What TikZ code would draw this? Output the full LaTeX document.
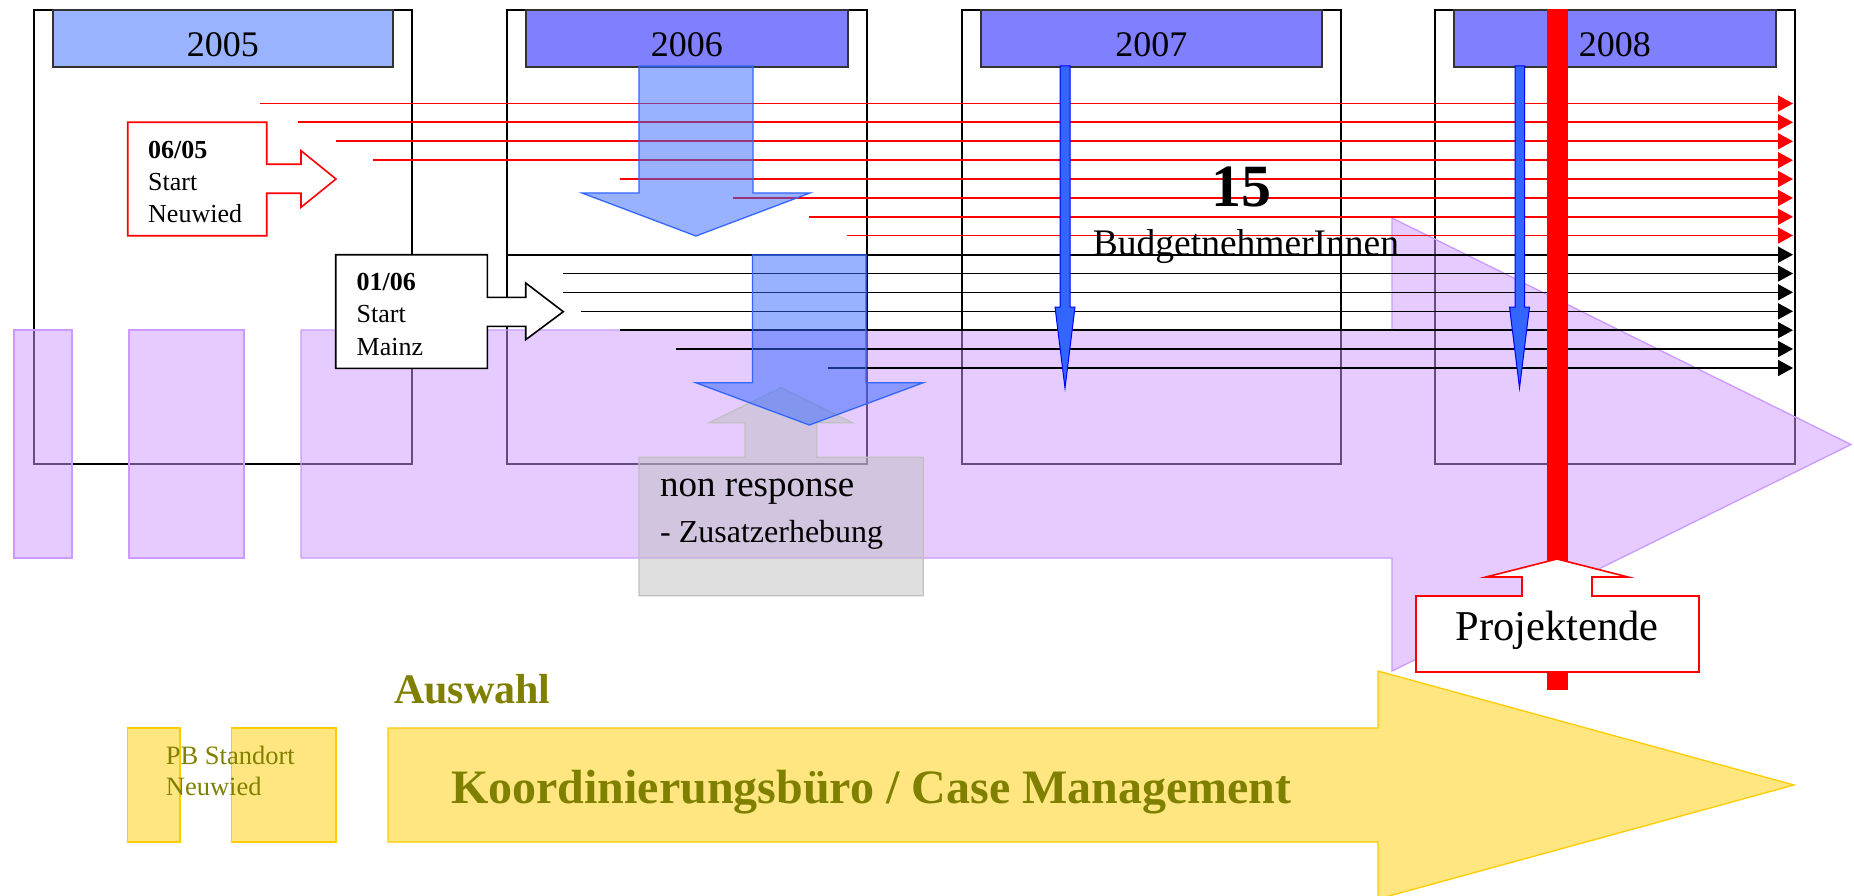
\documentclass[tikz,border=0pt]{standalone}
\usepackage{fontspec}
\setmainfont{Liberation Serif}
\usetikzlibrary{arrows.meta, positioning, calc}
\definecolor{hdrlight}{RGB}{153,179,255}
\definecolor{hdrdark}{RGB}{128,128,255}
\definecolor{lilac}{RGB}{204,153,255}
\definecolor{royal}{RGB}{51,102,255}
\definecolor{gold}{RGB}{255,204,0}
\definecolor{olivetext}{RGB}{128,128,0}
\definecolor{silver}{RGB}{192,192,192}
\tikzset{
  colbox/.style={draw=black, line width=1.7pt, minimum height=454pt, anchor=north west, inner sep=0pt},
  yearhead/.style={draw=black!80, line width=1.6pt, minimum height=57pt, anchor=north west, inner sep=0pt},
  yearlabel/.style={anchor=base, inner sep=0pt, font=\fontsize{36}{40}\selectfont},
  redline/.style={draw=red, line width=1.6pt, -{Triangle[length=15pt, width=16pt]}},
  blackline/.style={draw=black, line width=1.6pt, -{Triangle[length=15pt, width=16pt]}},
  lilacshape/.style={fill=lilac, fill opacity=0.5, draw=lilac, line width=1.3pt},
  grayshape/.style={fill=silver, fill opacity=0.5, draw=silver, line width=1.3pt},
  bluearrow/.style={fill=royal, fill opacity=0.5, draw=royal, line width=1.3pt},
  thinblue/.style={fill=royal, draw=blue, line width=1pt},
  goldshape/.style={fill=gold!50, draw=gold, line width=1.3pt},
  callout/.style={fill=white, line width=1.6pt},
  calltext/.style={anchor=base west, inner sep=0pt, font=\fontsize{26}{30}\selectfont},
  plaintext/.style={inner sep=0pt},
  oltext/.style={anchor=base west, inner sep=0pt, text=olivetext}
}

\begin{document}
\begin{tikzpicture}[x=1pt, y=-1pt]
    \useasboundingbox[fill=white] (0,0) rectangle (1854,896);

    % year columns
    \foreach \yr/\xl/\w/\hc in {2005/33/378/hdrlight, 2006/506/360/hdrdark, 2007/961/379/hdrdark, 2008/1434/360/hdrdark}{
        \node[colbox, minimum width=\w pt] (c\yr) at (\xl,9) {};
        \node[yearhead, fill=\hc, minimum width={(\w-38)*1pt}] (h\yr) at ([xshift=19pt]c\yr.north west) {};
        \node[yearlabel] (l\yr) at ($(h\yr.north)+(0,48)$) {\yr};
    }

    % lilac time arrow
    \draw[lilacshape] (14,330) rectangle (72,558);
    \draw[lilacshape] (129,330) rectangle (244,558);
    \draw[lilacshape] (301,330) -- (1392,330) -- (1392,218) -- (1851,444.5) -- (1392,671) -- (1392,558) -- (301,558) -- cycle;

    % non response callout
    \draw[grayshape] (639,457.3) -- (745,457.3) -- (745,422.7) -- (709.3,422.7) -- (781,387.7) -- (852.3,422.7) -- (816.7,422.7) -- (816.7,457.3) -- (923.3,457.3) -- (923.3,595.7) -- (639,595.7) -- cycle;

    % Neuwied participants
    \foreach \i/\x/\y in {1/260/103.5, 2/298/122.3, 3/335.5/141.3, 4/373.3/160.2, 5/620/179, 6/733/198, 7/809/216.8, 8/847/235.5}{
        \coordinate (rs\i) at (\x,\y);
        \coordinate (re\i) at (1793,\y);
        \draw[redline] (rs\i) -- (re\i);
    }
    % Mainz participants
    \foreach \i/\x/\y in {1/506/254.7, 2/563/273.5, 3/563/292.3, 4/581/311.3, 5/620/330.2, 6/676/349, 7/827.5/368}{
        \coordinate (bs\i) at (\x,\y);
        \coordinate (be\i) at (1793,\y);
        \draw[blackline] (bs\i) -- (be\i);
    }

    % block arrows 2006
    \draw[bluearrow] (639,66) -- (753,66) -- (753,193) -- (810,193) -- (696,236) -- (582,193) -- (639,193) -- cycle;
    \draw[bluearrow] (752.5,255) -- (866,255) -- (866,382.7) -- (923.3,382.7) -- (809.3,425) -- (695.7,382.7) -- (752.5,382.7) -- cycle;

    % thin arrows 2007 / 2008
    \draw[thinblue] (1060,66) -- (1070,66) -- (1070,307) -- (1075,307) -- (1065,388) -- (1055,307) -- (1060,307) -- cycle;
    \draw[thinblue] (1515,66) -- (1524.5,66) -- (1524.5,307) -- (1529.5,307) -- (1519.5,388) -- (1509.5,307) -- (1515,307) -- cycle;

    % end of project
    \fill[red] (1547,9) rectangle (1567.5,690);

    % start callouts
    \draw[callout, draw=red] (127.7,122.3) -- (266.7,122.3) -- (266.7,164.3) -- (301,164.3) -- (301,150.7) -- (336,179) -- (301,207.3) -- (301,193.3) -- (266.7,193.3) -- (266.7,235.7) -- (127.7,235.7) -- cycle;
    \node[calltext] (nw1) at (148,158.3) {\textbf{06/05}};
    \node[calltext] (nw2) at ([yshift=-32.4pt]nw1.base west) {Start};
    \node[calltext] (nw3) at ([yshift=-32pt]nw2.base west) {Neuwied};

    \draw[callout, draw=black] (335.7,254.7) -- (487.3,254.7) -- (487.3,297.3) -- (525.7,297.3) -- (525.7,283) -- (563.3,311.7) -- (525.7,339.7) -- (525.7,326.3) -- (487.3,326.3) -- (487.3,368.3) -- (335.7,368.3) -- cycle;
    \node[calltext] (mz1) at (356.5,290.7) {\textbf{01/06}};
    \node[calltext] (mz2) at ([yshift=-32pt]mz1.base west) {Start};
    \node[calltext] (mz3) at ([yshift=-32.3pt]mz2.base west) {Mainz};

    \draw[callout, draw=red] (1416,596) -- (1522,596) -- (1522,577) -- (1486,577) -- (1557,559) -- (1628,577) -- (1592,577) -- (1592,596) -- (1699,596) -- (1699,672) -- (1416,672) -- cycle;
    \node[plaintext, anchor=base, font=\fontsize{42.5}{46}\selectfont] (end) at (1557,640) {Projektende};

    % counts and notes
    \node[plaintext, anchor=base, font=\fontsize{60}{64}\selectfont\bfseries] (count) at (1241.5,206.7) {15};
    \node[plaintext, anchor=base, font=\fontsize{37.5}{42}\selectfont] (budget) at (1246,255) {BudgetnehmerInnen};
    \node[plaintext, anchor=base west, font=\fontsize{37}{42}\selectfont] (nonresp) at (660,496.7) {non response};
    \node[plaintext, anchor=base west, font=\fontsize{32}{36}\selectfont] (extra) at (660,542.7) {- Zusatzerhebung};

    % case management
    \draw[goldshape] (127.5,728) rectangle (180,842);
    \draw[goldshape] (231.5,728) rectangle (336,842);
    \draw[goldshape] (388,728) -- (1378,728) -- (1378,671) -- (1794,785) -- (1378,899) -- (1378,842) -- (388,842) -- cycle;
    \node[oltext, font=\fontsize{26.5}{30}\selectfont] (pb1) at (165.7,764) {PB Standort};
    \node[oltext, font=\fontsize{26.5}{30}\selectfont] (pb2) at (165.7,795.7) {Neuwied};
    \node[oltext, font=\fontsize{42}{46}\selectfont\bfseries] (sel) at (394,703) {Auswahl};
    \node[oltext, font=\fontsize{48}{52}\selectfont\bfseries] (km) at (451,803) {Koordinierungsbüro / Case Management};

\end{tikzpicture}
\end{document}
